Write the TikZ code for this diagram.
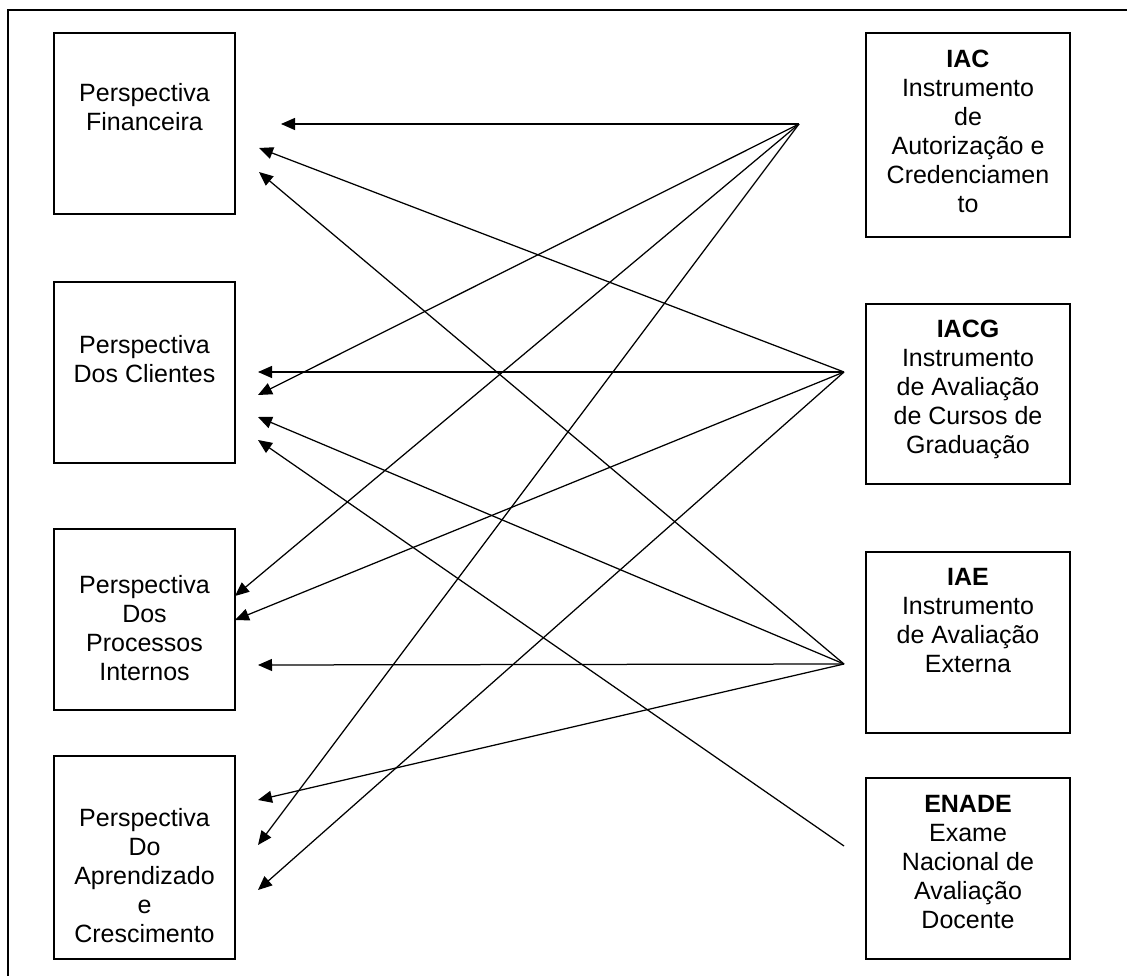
\documentclass[tikz,border=0pt]{standalone}
\usepackage{fontspec}
\setmainfont{Liberation Sans}
\usetikzlibrary{arrows.meta}
\begin{document}
\begin{tikzpicture}[x=1pt,y=-1pt,
  box/.style={draw,line width=1.25pt,anchor=north west,inner sep=0pt,outer sep=0pt},
  txt/.style={anchor=north,inner sep=0pt,align=center,font=\fontsize{25}{29}\selectfont},
  conn/.style={line width=1.25pt,-{Triangle[length=14pt,width=12pt]}}]
\useasboundingbox (0,0) rectangle (1127,976);
\clip (0,0) rectangle (1127,976);
% outer frame (only top and left edges visible)
\draw[line width=1.25pt] (1140,10) -- (8,10) -- (8,990);
% left boxes
\node[box,minimum width=181pt,minimum height=181pt] (fin) at (54,33) {};
\node[txt] (finT) at (144.5,83) {Perspectiva\\Financeira};
\node[box,minimum width=181pt,minimum height=181pt] (cli) at (54,282) {};
\node[txt] (cliT) at (144.5,335) {Perspectiva\\Dos Clientes};
\node[box,minimum width=181pt,minimum height=181pt] (pro) at (54,529) {};
\node[txt] (proT) at (144.5,575) {Perspectiva\\Dos\\Processos\\Internos};
\node[box,minimum width=181pt,minimum height=203pt] (apr) at (54,756) {};
\node[txt] (aprT) at (144.5,808) {Perspectiva\\Do\\Aprendizado\\e\\Crescimento};
% right boxes
\node[box,minimum width=204pt,minimum height=204pt] (iac) at (866,33) {};
\node[txt] (iacT) at (968,50) {\textbf{IAC}\\Instrumento\\de\\Autorização e\\Credenciamen\\to};
\node[box,minimum width=204pt,minimum height=180pt] (iacg) at (866,304) {};
\node[txt] (iacgT) at (968,320) {\textbf{IACG}\\Instrumento\\de Avaliação\\de Cursos de\\Graduação};
\node[box,minimum width=204pt,minimum height=181pt] (iae) at (866,552) {};
\node[txt] (iaeT) at (968,568) {\textbf{IAE}\\Instrumento\\de Avaliação\\Externa};
\node[box,minimum width=204pt,minimum height=181pt] (enade) at (866,778) {};
\node[txt] (enadeT) at (968,795) {\textbf{ENADE}\\Exame\\Nacional de\\Avaliação\\Docente};
% sources
\coordinate (sIAC) at (799,124);
\coordinate (sIACG) at (844,372);
\coordinate (sIAE) at (844,664);
\coordinate (sENADE) at (844,846);
% targets
\coordinate (fin1) at (281,124);
\coordinate (fin2) at (259,148);
\coordinate (fin3) at (259,172);
\coordinate (cli1) at (258,372);
\coordinate (cli2) at (258,395);
\coordinate (cli3) at (258,417);
\coordinate (cli4) at (258,440);
\coordinate (pro1) at (235,596);
\coordinate (pro2) at (235,620);
\coordinate (pro3) at (258,665);
\coordinate (apr1) at (258,800);
\coordinate (apr2) at (258,845);
\coordinate (apr3) at (258,890);
% connectors
\draw[conn] (sIAC) -- (fin1);
\draw[conn] (sIAC) -- (cli2);
\draw[conn] (sIAC) -- (pro1);
\draw[conn] (sIAC) -- (apr2);
\draw[conn] (sIACG) -- (fin2);
\draw[conn] (sIACG) -- (cli1);
\draw[conn] (sIACG) -- (pro2);
\draw[conn] (sIACG) -- (apr3);
\draw[conn] (sIAE) -- (fin3);
\draw[conn] (sIAE) -- (cli3);
\draw[conn] (sIAE) -- (pro3);
\draw[conn] (sIAE) -- (apr1);
\draw[conn] (sENADE) -- (cli4);
\end{tikzpicture}
\end{document}
